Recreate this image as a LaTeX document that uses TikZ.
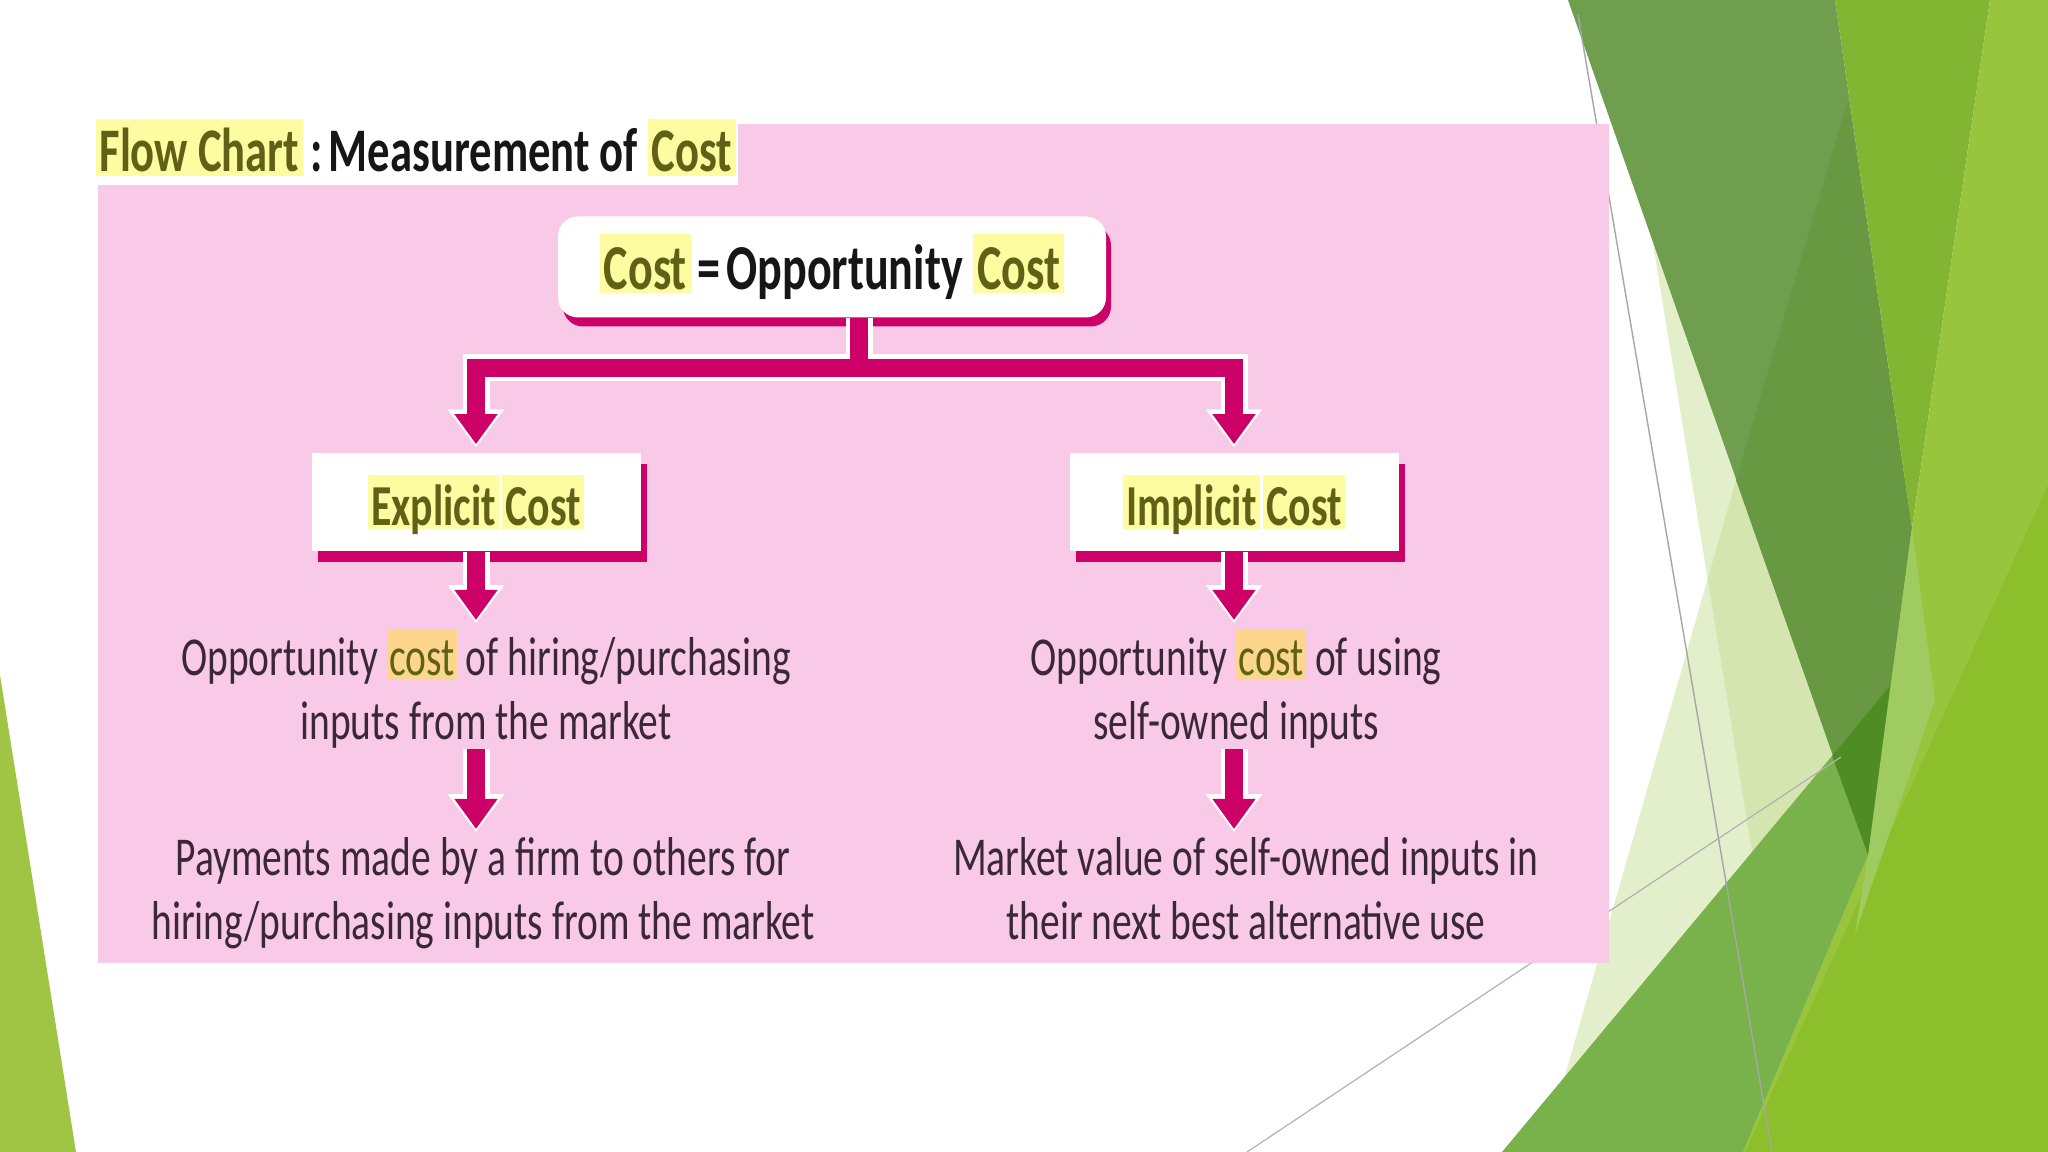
\documentclass[tikz,border=0pt]{standalone}
\usepackage{fontspec}
\setmainfont{Carlito}[FakeStretch=0.72]
\usetikzlibrary{arrows.meta,positioning,shadows,calc}
\definecolor{pinkbg}{RGB}{249,202,231}
\definecolor{costmag}{RGB}{204,0,102}
\definecolor{hlyellow}{RGB}{253,252,160}
\definecolor{hlorange}{RGB}{252,214,140}
\definecolor{olivetxt}{RGB}{96,96,22}
\definecolor{bodytxt}{RGB}{58,40,56}
\definecolor{titletxt}{RGB}{22,22,22}
\definecolor{leafgreen}{RGB}{160,197,68}
\definecolor{palegreen}{RGB}{200,222,150}
\definecolor{mossgreen}{RGB}{111,158,79}
\definecolor{mossdark}{RGB}{105,152,67}
\definecolor{brightgreen}{RGB}{130,181,49}
\definecolor{limegreen}{RGB}{152,196,62}
\definecolor{grassgreen}{RGB}{141,191,44}
\definecolor{midgreen}{RGB}{121,177,74}
\definecolor{deepgreen}{RGB}{79,140,35}
\definecolor{softgreen}{RGB}{160,203,96}

% marker highlights
\newcommand{\hly}[1]{{\setlength{\fboxsep}{0pt}\colorbox{hlyellow}{\hspace{0.06em}\rule[-0.06em]{0pt}{0.92em}\smash{\textcolor{olivetxt}{#1}}\hspace{0.06em}}}}
\newcommand{\hlo}[1]{{\setlength{\fboxsep}{0pt}\colorbox{hlorange}{\hspace{0.04em}\rule[-0.06em]{0pt}{0.92em}\smash{\textcolor{olivetxt}{#1}}\hspace{0.04em}}}}

\begin{document}
\begin{tikzpicture}[x=0.25pt,y=-0.25pt,
    titlebox/.style={fill=white,inner xsep=0.5pt,inner ysep=1.5pt,text depth=1.75pt,
        text=titletxt,font=\bfseries\fontsize{15.5}{18}\selectfont},
    costbox/.style={fill=white,rounded corners=5pt,minimum width=137pt,minimum height=25.25pt,
        drop shadow={shadow xshift=1.25pt,shadow yshift=-2.25pt,fill=costmag,opacity=1},
        font=\bfseries\fontsize{16}{19}\selectfont,text=titletxt},
    kindbox/.style={fill=white,minimum width=82.25pt,minimum height=24.5pt,
        drop shadow={shadow xshift=1.5pt,shadow yshift=-2.75pt,fill=costmag,opacity=1},
        font=\bfseries\fontsize{14.5}{17}\selectfont},
    desc/.style={align=center,inner sep=0pt,anchor=north,text=bodytxt,
        font=\fontsize{13.7}{15.9}\selectfont},
    halo/.style={white,line width=6.75pt,shorten >=1.2pt,-{Triangle[width=13.5pt,length=9.5pt]}},
    arr/.style={costmag,line width=4.5pt,shorten >=2pt,-{Triangle[width=10.25pt,length=7.5pt]}},
  ]
  \useasboundingbox (0,0) rectangle (2048,1152);
  \fill[white] (0,0) rectangle (2048,1152);

  % facet decoration
  \fill[leafgreen] (0,675) -- (76,1152) -- (0,1152) -- cycle;
  \fill[palegreen,opacity=0.5] (1650,225) -- (1870,860) -- (1860,1152) -- (1801,1152) -- cycle;
  \fill[palegreen,opacity=0.5] (1737,477) -- (1900,950) -- (1860,1152) -- (1543,1152) -- cycle;
  \fill[mossgreen] (1568,0) -- (1835,0) -- (1912,528) -- (1868,855) -- cycle;
  \fill[mossdark] (1848,100) -- (1912,528) -- (1868,855) -- (1736,480) -- cycle;
  \fill[brightgreen] (1835,0) -- (1990,0) -- (1912,528) -- cycle;
  \fill[limegreen] (1990,0) -- (2048,0) -- (2048,1152) -- (1743,1152) -- (1868,855) -- (1912,528) -- cycle;
  \fill[grassgreen] (1745,1152) -- (2048,485) -- (2048,1152) -- cycle;
  \fill[softgreen] (1912,528) -- (1935,700) -- (1855,934) -- (1868,855) -- cycle;
  \fill[midgreen] (1502,1152) -- (1832,756) -- (1868,855) -- (1743,1152) -- cycle;
  \fill[deepgreen] (1832,756) -- (1890,686) -- (1868,855) -- cycle;
  \draw[gray!70,line width=0.35pt] (1578,15) -- (1772,1152);
  \draw[gray!60,line width=0.3pt] (1247,1152) -- (1841,757);

  % panel
  \fill[pinkbg] (98,124) rectangle (1609,963);

  \node[titlebox,anchor=base west] (title) at (93,172)
        {\hly{Flow Chart}\hspace{0.12em}:\hspace{0.1em}Measurement of \hly{Cost}};

  \node[costbox] (cost) at (832,267) {\hly{Cost}\hspace{0.1em}=\hspace{0.1em}Opportunity \hly{Cost}};
  \node[kindbox] (expl) at (476,502) {\hly{Explicit}\hspace{0.05em}\hly{Cost}};
  \node[kindbox] (impl) at (1234,502) {\hly{Implicit}\hspace{0.05em}\hly{Cost}};
  \node[desc] (expopp) at (486,628) {Opportunity \hlo{cost} of hiring/purchasing\\inputs from the market};
  \node[desc] (exppay) at (483,837) {Payments made by a firm to others for\\hiring/purchasing inputs from the market};
  \node[desc] (impopp) at (1236,628) {Opportunity \hlo{cost} of using\\self-owned inputs};
  \node[desc] (imppay) at (1246,837) {Market value of self-owned inputs in\\their next best alternative use};

  % connectors
  \coordinate (split) at (859,368);
  \foreach \kind in {expl,impl}
    \draw[halo] (cost.south -| split) -- (split) -| (\kind.north);
  \foreach \kind in {expl,impl}
    \draw[arr] (cost.south -| split) -- (split) -| (\kind.north);
  \foreach \col/\from/\to in {expl/expl/expopp,expl/expopp/exppay,impl/impl/impopp,impl/impopp/imppay}{
    \draw[halo] (\col.south |- \from.south) -- (\col.south |- \to.north);
    \draw[arr] (\col.south |- \from.south) -- (\col.south |- \to.north);
  }
\end{tikzpicture}
\end{document}
